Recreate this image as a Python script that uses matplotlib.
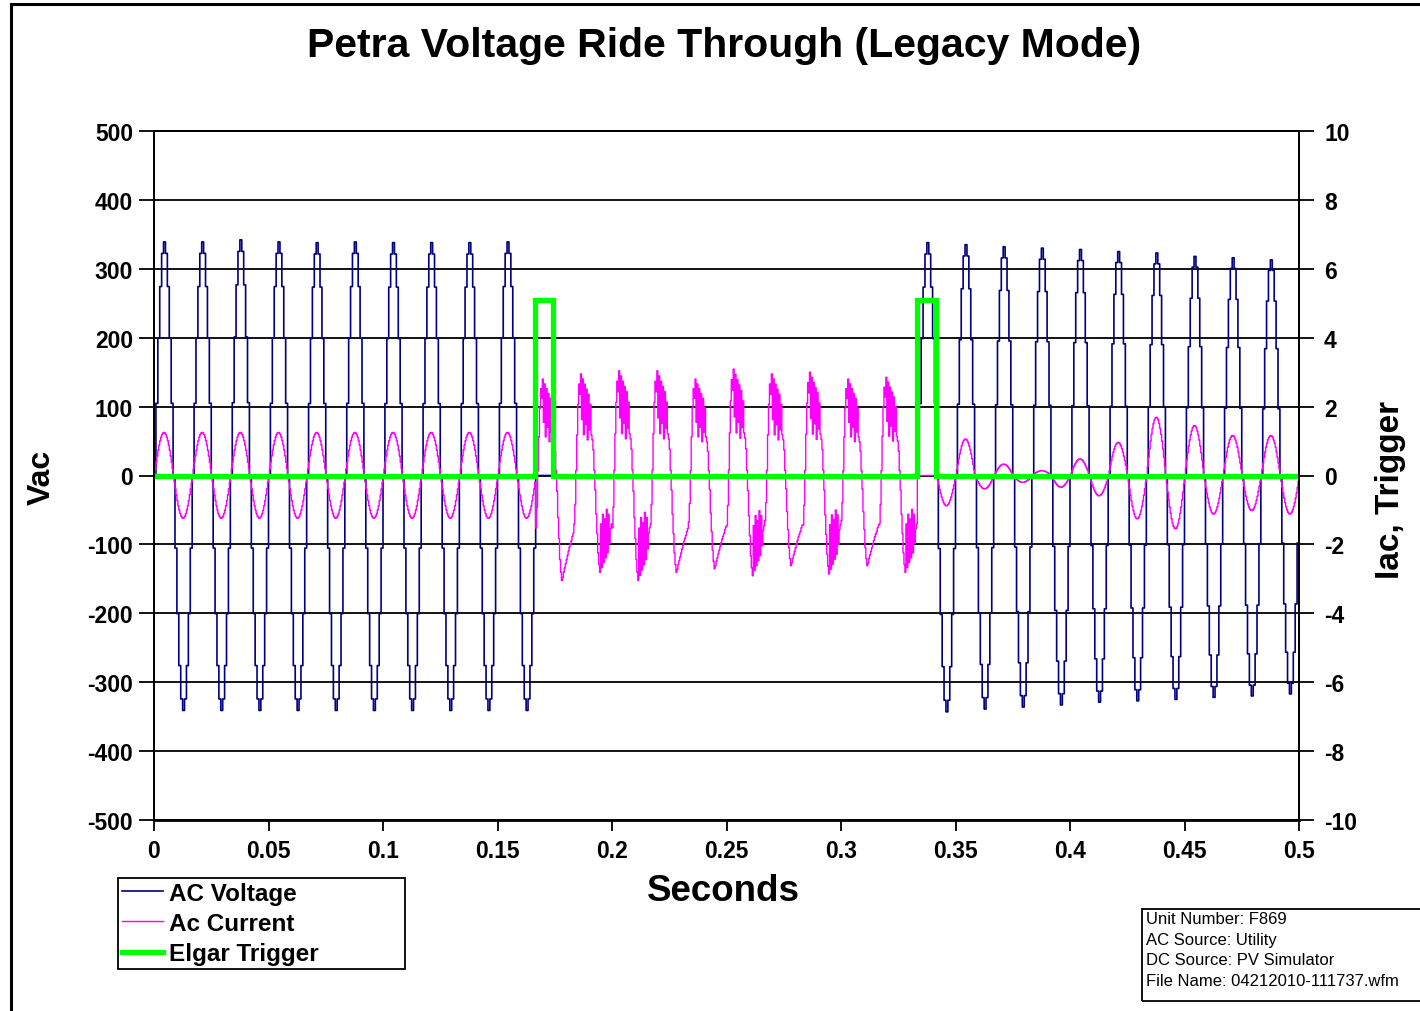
import numpy as np
import matplotlib
matplotlib.use("Agg")
import matplotlib.pyplot as plt
from matplotlib.lines import Line2D
from matplotlib.patches import Rectangle

plt.rcParams['font.family'] = ['Liberation Sans', 'DejaVu Sans']
plt.rcParams['axes.unicode_minus'] = False

line_freq = 60.0
volt_spc = 20   # voltage samples per cycle
cur_spc = 40    # current samples per cycle

# one scope-sampled cycle of the grid voltage (normalised)
volt_cycle = [0.0, 0.309, 0.588, 0.809, 0.951, 1.0, 0.951, 0.809, 0.588, 0.309,
              0.0, -0.309, -0.588, -0.809, -0.951, -1.0, -0.951, -0.809, -0.588, -0.309]

# one cycle of the current when grid connected (normalised)
cur_cycle = [0.0, 0.156, 0.309, 0.454, 0.588, 0.707, 0.809, 0.891, 0.951, 0.988,
             1.0, 0.988, 0.951, 0.891, 0.809, 0.707, 0.588, 0.454, 0.309, 0.156,
             0.0, -0.156, -0.309, -0.454, -0.588, -0.707, -0.809, -0.891, -0.951, -0.988,
             -1.0, -0.988, -0.951, -0.891, -0.809, -0.707, -0.588, -0.454, -0.309, -0.156]

# distorted current cycles while the grid is dropped out (normalised)
drop_clean = [-0.50, -0.30, 0.05, 0.40, 0.70, 0.90, 0.80, 1.00, 0.55, 0.95,
              0.40, 0.90, 0.50, 0.85, 0.35, 0.80, 0.45, 0.70, 0.40, 0.35,
              0.25, 0.05, -0.15, -0.40, -0.60, -0.80, -0.92, -1.00, -0.97, -0.92,
              -0.88, -0.84, -0.80, -0.76, -0.72, -0.68, -0.65, -0.62, -0.58, -0.55]
drop_noisy = [-0.50, -0.30, 0.05, 0.40, 0.70, 0.90, 0.80, 1.00, 0.55, 0.95,
              0.40, 0.90, 0.50, 0.85, 0.35, 0.80, 0.45, 0.70, 0.40, 0.35,
              0.25, 0.05, -0.15, -0.40, -0.60, -0.80, -0.92, -1.00, -0.50, -0.95,
              -0.40, -0.90, -0.45, -0.85, -0.35, -0.80, -0.40, -0.70, -0.55, -0.50]

# per cycle peaks (30 cycles over 0.5 s)
volt_pos = [339, 339, 342, 339, 338, 339, 338, 338, 338, 339,
            0, 0, 0, 0, 0, 0, 0, 0, 0, 0,
            338, 335, 332, 330, 328, 325, 323, 318, 316, 313]
volt_neg = [341, 341, 341, 341, 341, 341, 341, 341, 341, 341,
            0, 0, 0, 0, 0, 0, 0, 0, 0, 0,
            343, 339, 336, 333, 329, 327, 325, 322, 320, 317]

cur_pos = [1.25, 1.25, 1.25, 1.25, 1.25, 1.25, 1.25, 1.25, 1.25, 1.25,
           2.80, 2.95, 3.04, 3.04, 2.80, 3.09, 2.95, 3.00, 2.80, 2.85,
           0.00, 1.06, 0.33, 0.14, 0.48, 0.96, 1.69, 1.45, 1.16, 1.16]
cur_neg = [1.24, 1.24, 1.24, 1.24, 1.24, 1.24, 1.24, 1.24, 1.24, 1.24,
           3.05, 2.81, 3.05, 2.81, 2.71, 2.91, 2.62, 2.86, 2.62, 2.81,
           0.88, 0.39, 0.20, 0.34, 0.59, 1.26, 1.55, 1.12, 1.02, 1.12]
cycle_kind = ['sine'] * 10 + ['clean', 'noisy', 'noisy', 'clean', 'clean',
                              'noisy', 'clean', 'noisy', 'clean', 'noisy'] + ['sine'] * 10

trig_t = [0.0, 0.1664, 0.1664, 0.1744, 0.1744, 0.3331, 0.3331, 0.3415, 0.3415, 0.5]
trig_v = [0, 0, 5.1, 5.1, 0, 0, 5.1, 5.1, 0, 0]

x_ticks = [0, 0.05, 0.1, 0.15, 0.2, 0.25, 0.3, 0.35, 0.4, 0.45, 0.5]
x_tick_labels = ['0', '0.05', '0.1', '0.15', '0.2', '0.25', '0.3', '0.35', '0.4', '0.45', '0.5']
vac_ticks = [-500, -400, -300, -200, -100, 0, 100, 200, 300, 400, 500]
iac_ticks = [-10, -8, -6, -4, -2, 0, 2, 4, 6, 8, 10]

info_lines = ["Unit Number: F869", "AC Source: Utility",
              "DC Source: PV Simulator", "File Name: 04212010-111737.wfm"]

shapes = {'sine': cur_cycle, 'clean': drop_clean, 'noisy': drop_noisy}

volt = []
cur = []
for i in range(len(volt_pos)):
    for s in volt_cycle:
        volt.append(s * volt_pos[i] if s >= 0 else s * volt_neg[i])
    for s in shapes[cycle_kind[i]]:
        cur.append(s * cur_pos[i] if s >= 0 else s * cur_neg[i])
volt.append(0.0)
cur.append(0.0)
t_volt = np.arange(len(volt)) / (line_freq * volt_spc)
t_cur = np.arange(len(cur)) / (line_freq * cur_spc)

fig = plt.figure(figsize=(14.2, 10.12), dpi=100)
ax = fig.add_axes([154 / 1420, 1 - 821 / 1012, (1299 - 154) / 1420, (821 - 132) / 1012])
ax2 = ax.twinx()

ax.plot(t_volt, volt, color='#000080', linewidth=1.2, drawstyle='steps-post')
ax2.plot(t_cur, cur, color='#FF00FF', linewidth=1.0, drawstyle='steps-post')
ax2.plot(trig_t, trig_v, color='#00FF00', linewidth=3.8, solid_joinstyle='miter',
         solid_capstyle='butt', clip_on=False)

ax.set_xlim(0, 0.5)
ax.set_ylim(-500, 500)
ax2.set_ylim(-10, 10)
ax.set_xticks(x_ticks)
ax.set_xticklabels(x_tick_labels)
ax.set_yticks(vac_ticks)
ax.set_yticklabels([str(v) for v in vac_ticks])
ax2.set_yticks(iac_ticks)
ax2.set_yticklabels([str(v) for v in iac_ticks])

ax.yaxis.grid(True, color='black', linewidth=1.3)
ax.set_axisbelow(True)

for a in (ax, ax2):
    for sp in a.spines.values():
        sp.set_linewidth(1.3)
ax.spines['bottom'].set_linewidth(2.0)

ax.tick_params(axis='y', direction='out', length=11, width=1.3, pad=4, labelsize=16.5)
ax.tick_params(axis='x', direction='out', length=8, width=1.3, pad=6, labelsize=16.5)
ax2.tick_params(axis='y', direction='out', length=11, width=1.3, pad=7, labelsize=16.5)
for lab in ax.get_xticklabels() + ax.get_yticklabels() + ax2.get_yticklabels():
    lab.set_fontweight('bold')

fig.text(724 / 1420, 1 - 46 / 1012, 'Petra Voltage Ride Through (Legacy Mode)',
         ha='center', va='center', fontsize=29.5, fontweight='bold')
fig.text(42 / 1420, 1 - 477 / 1012, 'Vac', rotation=90, ha='center', va='center',
         fontsize=23, fontweight='bold')
fig.text(1390 / 1420, 1 - 490 / 1012, 'Iac, Trigger', rotation=90, ha='center', va='center',
         fontsize=24, fontweight='bold')
fig.text(723 / 1420, 1 - 892 / 1012, 'Seconds', ha='center', va='center',
         fontsize=26.5, fontweight='bold')

handles = [Line2D([], [], color='#000080', linewidth=1.2),
           Line2D([], [], color='#FF00FF', linewidth=1.0),
           Line2D([], [], color='#00FF00', linewidth=3.8)]
leg = fig.legend(handles, ['AC Voltage', 'Ac Current', 'Elgar Trigger'],
                 loc='upper left',
                 bbox_to_anchor=(118 / 1420, 1 - 970 / 1012, (405 - 118) / 1420, 91 / 1012),
                 mode='expand', frameon=True, fancybox=False, edgecolor='black',
                 framealpha=1, prop={'size': 17.5, 'weight': 'bold'}, handlelength=1.7,
                 handletextpad=0.25, labelspacing=0.3, borderpad=0.15,
                 borderaxespad=0)
leg.get_frame().set_linewidth(1.3)

# info box bottom right
fig.patches.append(Rectangle((1142 / 1420, 1 - 1002 / 1012), 0.2, 92 / 1012,
                             transform=fig.transFigure, fill=False,
                             edgecolor='black', linewidth=1.3))
for i, line in enumerate(info_lines):
    fig.text(1146 / 1420, 1 - (920 + i * 20.5) / 1012, line, ha='left', va='center',
             fontsize=12)

# outer frame
fig.patches.append(Rectangle((11 / 1420, -0.05), 1.2, 1.05 - 5 / 1012,
                             transform=fig.transFigure, fill=False,
                             edgecolor='black', linewidth=2.2))

fig.savefig('out.png', dpi=100)
